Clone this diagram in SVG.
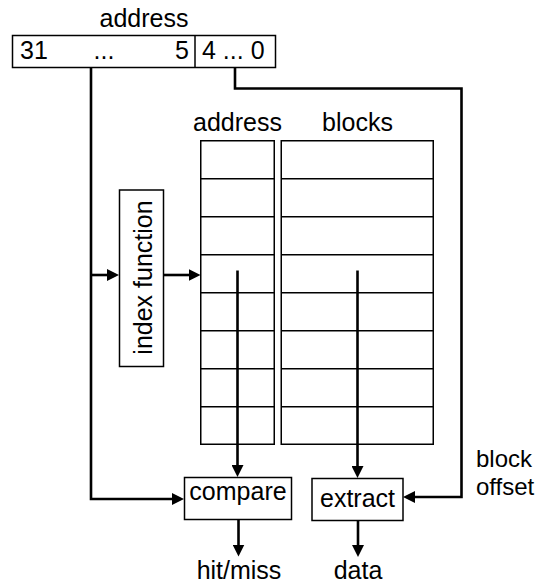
<svg xmlns="http://www.w3.org/2000/svg" width="542" height="586" viewBox="0 0 542 586">
  <style>
    text { font-family: "Liberation Sans", Arial, sans-serif; font-size: 25px; fill: #000; }
    .mid { text-anchor: middle; }
    .side { font-size: 24px; }
    .box { fill: #fff; stroke: #000; stroke-width: 1.5; }
    .grid { fill: none; stroke: #000; stroke-width: 1.5; }
    .wire { fill: none; stroke: #000; stroke-width: 2.6; stroke-linejoin: miter; }
    .arrow { marker-end: url(#head); }
  </style>
  <defs>
    <marker id="head" markerUnits="userSpaceOnUse" markerWidth="12" markerHeight="12" refX="4" refY="6" orient="auto">
      <path d="M0,0 L12,6 L0,12 z" fill="#000"/>
    </marker>
  </defs>

  <rect width="542" height="586" fill="#fff"/>

  <!-- address register -->
  <g id="address">
    <text class="mid" x="144" y="27">address</text>
    <rect class="box" x="12.5" y="35.5" width="263" height="32"/>
    <line class="grid" x1="195" y1="35.5" x2="195" y2="67.5"/>
    <text x="20" y="59">31</text>
    <text class="mid" x="104" y="59">...</text>
    <text x="189" y="59" text-anchor="end">5</text>
    <text x="202" y="59">4 ... 0</text>
  </g>

  <!-- index function -->
  <g id="index-function">
    <rect class="box" x="119.5" y="190" width="44" height="176.5"/>
    <text class="mid" transform="translate(151.5,277.5) rotate(-90)" x="0" y="0">index function</text>
  </g>

  <!-- tag array -->
  <g id="tag-array">
    <text class="mid" x="237.5" y="131">address</text>
    <rect class="grid" x="200.75" y="140.75" width="73.5" height="303.5"/>
    <path class="grid" d="M200.75,178.75H274.25 M200.75,216.75H274.25 M200.75,254.75H274.25 M200.75,292.75H274.25 M200.75,330.75H274.25 M200.75,368.75H274.25 M200.75,406.75H274.25"/>
  </g>

  <!-- data block array -->
  <g id="block-array">
    <text class="mid" x="357.5" y="131">blocks</text>
    <rect class="grid" x="281.25" y="140.75" width="152" height="303.5"/>
    <path class="grid" d="M281.25,178.75H433.25 M281.25,216.75H433.25 M281.25,254.75H433.25 M281.25,292.75H433.25 M281.25,330.75H433.25 M281.25,368.75H433.25 M281.25,406.75H433.25"/>
  </g>

  <!-- compare -->
  <g id="compare">
    <rect class="box" x="184.5" y="477.5" width="107" height="42"/>
    <text class="mid" x="238" y="500">compare</text>
  </g>

  <!-- extract -->
  <g id="extract">
    <rect class="box" x="312" y="478.5" width="91" height="42"/>
    <text class="mid" x="357.5" y="507">extract</text>
  </g>

  <!-- outputs and side label -->
  <g id="hit-miss"><text class="mid" x="239" y="579">hit/miss</text></g>
  <g id="data"><text class="mid" x="358" y="579">data</text></g>
  <g id="block-offset">
    <text class="side" x="476" y="467">block</text>
    <text class="side" x="476" y="494.5">offset</text>
  </g>

  <!-- connectors -->
  <g id="connectors">
    <path class="wire" d="M91,67.5 V499 H176" style="marker-end:url(#head)"/>
    <line class="wire arrow" x1="91" y1="275" x2="111" y2="275"/>
    <line class="wire arrow" x1="163.5" y1="275" x2="192.5" y2="275"/>
    <line class="wire arrow" x1="237.5" y1="270.5" x2="237.5" y2="469"/>
    <line class="wire arrow" x1="357.5" y1="270.5" x2="357.5" y2="470"/>
    <path class="wire" d="M235,67.5 V88.5 H461.5 V497 H411" style="marker-end:url(#head)"/>
    <line class="wire arrow" x1="238.5" y1="519.5" x2="238.5" y2="548.5"/>
    <line class="wire arrow" x1="358" y1="520.5" x2="358" y2="549"/>
  </g>
</svg>
